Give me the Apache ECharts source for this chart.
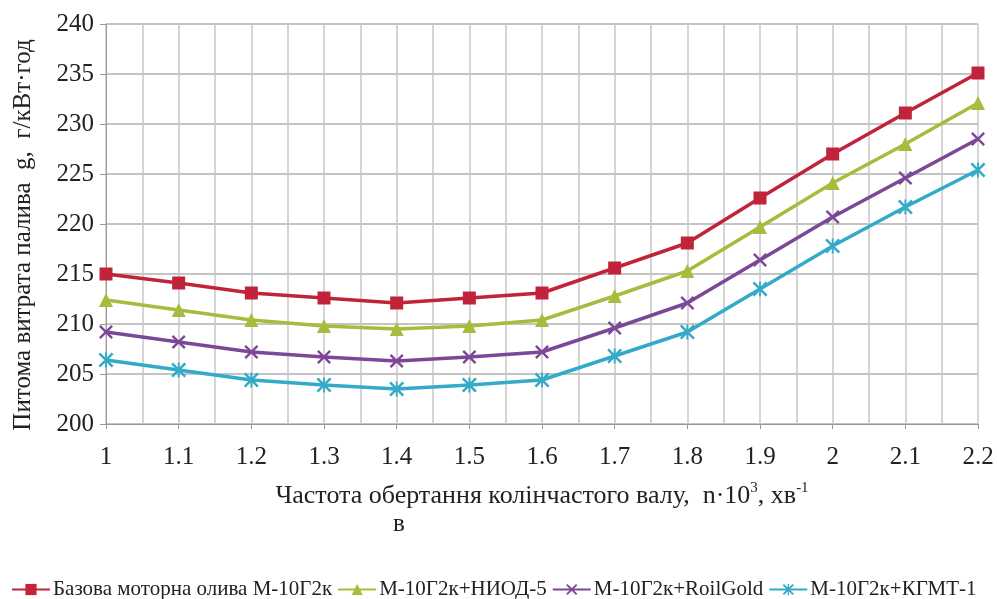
<!DOCTYPE html>
<html><head><meta charset="utf-8">
<script src="https://cdn.jsdelivr.net/npm/echarts@6/dist/echarts.min.js"></script>
<style>html,body{margin:0;padding:0;background:#fff}#c{width:997px;height:599px}</style>
</head><body><div id="c"></div>
<script>
const xValues = [1, 1.1, 1.2, 1.3, 1.4, 1.5, 1.6, 1.7, 1.8, 1.9, 2, 2.1, 2.2];
const seriesNames = ['Базова моторна олива М-10Г2к', 'М-10Г2к+НИОД-5', 'М-10Г2к+RoilGold', 'М-10Г2к+КГМТ-1'];
const base =     [215.0, 214.1, 213.1, 212.6, 212.1, 212.6, 213.1, 215.6, 218.1, 222.6, 227.0, 231.1, 235.1];
const niod =     [212.4, 211.4, 210.4, 209.8, 209.5, 209.8, 210.4, 212.8, 215.3, 219.7, 224.1, 228.0, 232.1];
const roilGold = [209.2, 208.2, 207.2, 206.7, 206.3, 206.7, 207.2, 209.6, 212.1, 216.4, 220.7, 224.6, 228.5];
const kgmt =     [206.4, 205.4, 204.4, 203.9, 203.5, 203.9, 204.4, 206.8, 209.2, 213.5, 217.8, 221.7, 225.4];
const yTicks = [200, 205, 210, 215, 220, 225, 230, 235, 240];

const colors = ['#C1233A', '#A5BD3D', '#7D4797', '#33ABC8'];
const xSym = 'path://M0,1.2 L1.2,0 L10,8.8 L8.8,10 Z M8.8,0 L10,1.2 L1.2,10 L0,8.8 Z';
const starSym = 'path://M0,1.2 L1.2,0 L10,8.8 L8.8,10 Z M8.8,0 L10,1.2 L1.2,10 L0,8.8 Z M4.4,0 L5.6,0 L5.6,10 L4.4,10 Z';
const symbols = ['rect', 'triangle', xSym, starSym];
const sizes = [13, 14, 14, 15];
const datasets = [base, niod, roilGold, kgmt];

const chart = echarts.init(document.getElementById('c'));
const font = 'Liberation Serif';
chart.setOption({
  animation: false,
  textStyle: { fontFamily: font },
  grid: { left: 106, right: 19, top: 24, bottom: 175, containLabel: false },
  legend: {
    top: 574, left: 6,
    itemWidth: 38, itemHeight: 14, itemGap: 5,
    textStyle: { fontFamily: font, fontSize: 21, color: '#222', padding: [0, 0, 0, -2] },
    data: seriesNames
  },
  xAxis: {
    type: 'value', min: 1, max: 2.2, interval: 0.1,
    axisLine: { lineStyle: { color: '#999', width: 1 } },
    axisTick: { show: true, length: 5, lineStyle: { color: '#999' } },
    axisLabel: { fontFamily: font, fontSize: 25, color: '#222', margin: 21,
      formatter: v => String(Math.round(v * 10) / 10) },
    splitLine: { show: true, lineStyle: { color: '#c8c8c8', width: 1.5 } },
    minorTick: { show: false, splitNumber: 2 },
    minorSplitLine: { show: true, lineStyle: { color: '#c8c8c8', width: 1.5 } },
    name: '{a|Частота обертання колінчастого валу,  n·10}{s|3}{a|, хв}{s|-1}',
    nameLocation: 'middle', nameGap: 57,
    nameTextStyle: { rich: {
      a: { fontFamily: font, fontSize: 26, color: '#222', verticalAlign: 'bottom', lineHeight: 28 },
      s: { fontFamily: font, fontSize: 15, color: '#222', verticalAlign: 'top', lineHeight: 28, padding: [0,0,12,0] }
    } }
  },
  yAxis: {
    type: 'value', min: 200, max: 240, interval: 5,
    axisLine: { show: true, lineStyle: { color: '#999', width: 1 } },
    axisTick: { show: true, length: 6, lineStyle: { color: '#999' } },
    axisLabel: { fontFamily: font, fontSize: 25, color: '#222', margin: 12 },
    splitLine: { show: true, lineStyle: { color: '#b0b0b0', width: 1.5 } },
    name: 'Питома витрата палива  g,  г/кВт·год',
    nameLocation: 'middle', nameGap: 70,
    nameTextStyle: { fontFamily: font, fontSize: 25, color: '#222', padding: [0, 22, 0, 0] }
  },
  graphic: [{ type: 'text', left: 393, top: 512, style: { text: 'в', font: '25px "Liberation Serif"', fill: '#222' } }],
  series: datasets.map((d, i) => ({
    name: seriesNames[i], type: 'line',
    data: xValues.map((x, j) => [x, d[j]]),
    symbol: symbols[i], symbolSize: sizes[i],
    lineStyle: { color: colors[i], width: 3.5 },
    itemStyle: { color: colors[i] },
    z: 10 - i
  }))
});
</script></body></html>
